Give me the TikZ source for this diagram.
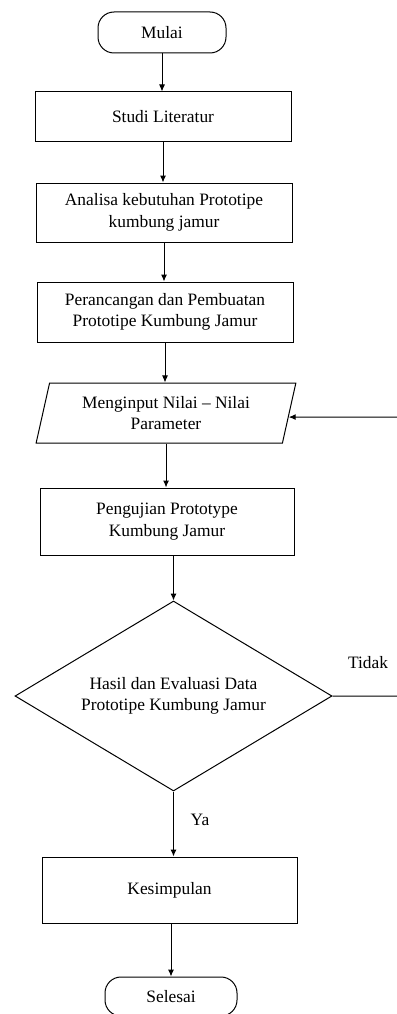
\documentclass[tikz,border=0pt]{standalone}
\usepackage{fontspec}
\setmainfont{Liberation Serif}
\usetikzlibrary{arrows.meta,shapes.geometric,calc}
\begin{document}
\begin{tikzpicture}[x=1pt,y=-1pt,line width=1pt,
  every node/.style={font=\fontsize{17.4}{21.5}\selectfont},
  box/.style={draw,rectangle,align=center,inner sep=0pt},
  term/.style={draw,rectangle,rounded corners=16pt,align=center,inner sep=0pt},
  io/.style={draw,trapezium,trapezium left angle=74,trapezium right angle=106,trapezium stretches=true,align=center,inner sep=0pt},
  decision/.style={draw,diamond,aspect=1.67,align=center,inner sep=0pt},
  lbl/.style={inner sep=0pt},
  arr/.style={-{Latex[length=7pt,width=6pt]}}]
\useasboundingbox (0,0) rectangle (396,1014);
\node[term,minimum width=128pt,minimum height=41pt] (mulai) at (162,32.5) {Mulai};
\node[box,minimum width=256pt,minimum height=49pt] (studi) at (163,116.5) {Studi Literatur};
\node[box,minimum width=256pt,minimum height=59pt] (analisa) at (164,212.5) {Analisa kebutuhan Prototipe\\kumbung jamur};
\node[box,minimum width=256pt,minimum height=60pt] (rancang) at (165,312) {Perancangan dan Pembuatan\\Prototipe Kumbung Jamur};
\node[io,minimum width=260pt,minimum height=60pt] (input) at (166,413) {Menginput Nilai – Nilai\\Parameter};
\node[box,minimum width=254pt,minimum height=67pt] (uji) at (167,521.5) {Pengujian Prototype\\Kumbung Jamur};
\node[decision,minimum width=317pt,minimum height=190pt] (hasil) at (173.5,696) {Hasil dan Evaluasi Data\\Prototipe Kumbung Jamur};
\node[box,minimum width=255pt,minimum height=66pt] (kes) at (169.5,890) {Kesimpulan};
\node[term,minimum width=132pt,minimum height=39pt] (selesai) at (171,996.5) {Selesai};
\node[lbl] (tidak) at (368,663) {Tidak};
\node[lbl] (ya) at (200,820) {Ya};
\coordinate (fbR) at (399,696);
\coordinate (fbT) at (399,417);
\draw[arr] (mulai.south) -- (mulai.south |- studi.north);
\draw[arr] (studi.south) -- (studi.south |- analisa.north);
\draw[arr] (analisa.south) -- (analisa.south |- rancang.north);
\draw[arr] (rancang.south) -- (rancang.south |- input.north);
\draw[arr] (input.south) -- (input.south |- uji.north);
\draw[arr] (uji.south -| hasil.north) -- (hasil.north);
\draw[arr] (hasil.south) -- (hasil.south |- kes.north);
\draw[arr] (kes.south -| selesai.north) -- (selesai.north);
\draw[arr] (hasil.east) -- (fbR) -- (fbT) -- ($(input.top right corner)!0.567!(input.bottom right corner)$);
\end{tikzpicture}
\end{document}
